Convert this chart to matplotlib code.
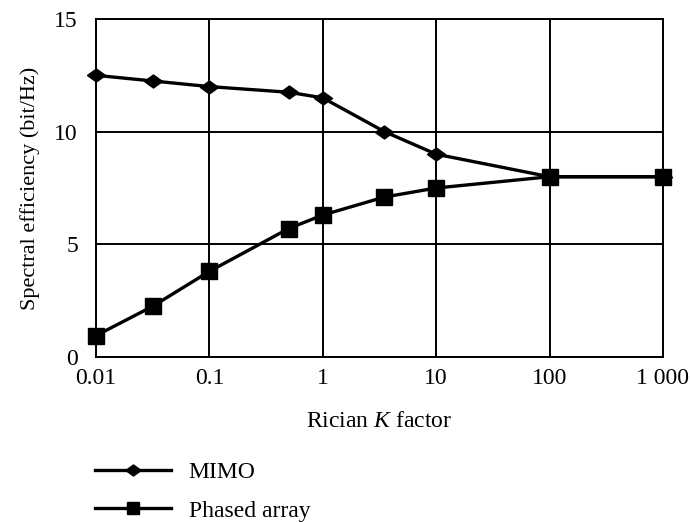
import matplotlib
matplotlib.use("Agg")
import matplotlib.pyplot as plt
from matplotlib.ticker import FixedLocator, NullLocator

k_factor = [0.01, 0.0316, 0.1, 0.5, 1, 3.5, 10, 100, 1000]
mimo = [12.5, 12.25, 12.0, 11.75, 11.5, 10.0, 9.0, 8.0, 8.0]
phased = [0.95, 2.25, 3.8, 5.7, 6.3, 7.1, 7.5, 8.0, 8.0]

x_ticks = [0.01, 0.1, 1, 10, 100, 1000]
x_tick_labels = ["0.01", "0.1", "1", "10", "100", "1 000"]
y_ticks = [0, 5, 10, 15]
y_tick_labels = ["0", "5", "10", "15"]

plt.rcParams["font.family"] = ["Liberation Serif", "DejaVu Serif"]
plt.rcParams["mathtext.fontset"] = "custom"
plt.rcParams["mathtext.rm"] = "Liberation Serif"
plt.rcParams["mathtext.it"] = "Liberation Serif:italic"

fs = 17
fig = plt.figure(figsize=(6.9, 5.22), dpi=100)
ax = fig.add_axes([96/690, 1-357/522, (663-96)/690, (357-19)/522])

diamond = [(-1, 0), (0, 0.72), (1, 0), (0, -0.72), (-1, 0)]
ax.plot(k_factor, mimo, color="black", lw=2.4, marker=diamond, ms=13,
        label="MIMO", clip_on=False, zorder=3)
ax.plot(k_factor, phased, color="black", lw=2.4, marker="s", ms=11,
        label="Phased array", clip_on=False, zorder=3)

ax.set_xscale("log")
ax.set_xlim(0.01, 1000)
ax.set_ylim(0, 15)
ax.xaxis.set_major_locator(FixedLocator(x_ticks))
ax.xaxis.set_minor_locator(NullLocator())
ax.set_xticklabels(x_tick_labels)
ax.set_yticks(y_ticks)
ax.set_yticklabels(y_tick_labels)
ax.tick_params(axis="both", length=0, labelsize=fs)
ax.tick_params(axis="x", pad=8)
ax.tick_params(axis="y", pad=13)
ax.grid(True, color="black", lw=1.4)
ax.set_axisbelow(True)
for sp in ax.spines.values():
    sp.set_linewidth(1.4)
    sp.set_color("black")

ax.set_xlabel("Rician $K$ factor", fontsize=fs, labelpad=16)
ax.set_ylabel("Spectral efficiency (bit/Hz)", fontsize=16, labelpad=10)

handles, labels = ax.get_legend_handles_labels()
fig.legend(handles, labels, loc="upper left", bbox_to_anchor=(86/690, 1-452/522),
           frameon=False, fontsize=fs, handlelength=3.2, labelspacing=0.72,
           handletextpad=0.75, borderaxespad=0, markerscale=0.85)

fig.savefig("out.png", dpi=100)
